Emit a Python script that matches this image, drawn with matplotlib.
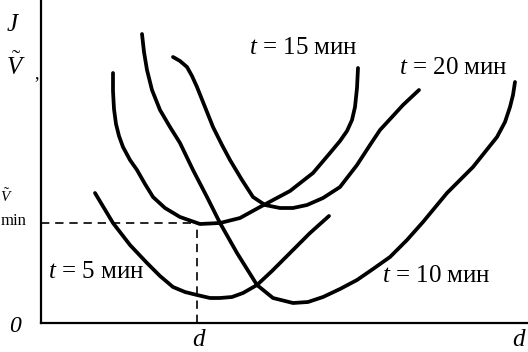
import matplotlib
matplotlib.use("Agg")
import matplotlib.pyplot as plt

plt.rcParams["font.family"] = ["Liberation Serif", "DejaVu Serif"]
plt.rcParams["mathtext.fontset"] = "custom"
plt.rcParams["mathtext.rm"] = "Liberation Serif"
plt.rcParams["mathtext.it"] = "Liberation Serif:italic"

W, H = 528, 352

# curves (chart units: origin at axis corner)
t5_x = [54, 63, 72, 89, 106, 119, 132, 144, 156, 169, 179, 191, 202, 216, 231, 249, 269, 288]
t5_y = [130, 115, 100, 78, 60, 47, 36, 31, 28, 25, 25, 26, 30, 38, 52, 70, 90, 107]

t10_x = [101, 103, 106, 111, 119, 129, 139, 152, 166, 179, 196, 216, 232, 252, 267, 282,
         299, 316, 332, 349, 366, 382, 406, 432, 456, 464, 469, 472, 474]
t10_y = [289, 271, 253, 233, 213, 196, 180, 153, 126, 100, 70, 38, 25, 20, 21, 26,
         34, 43, 54, 66, 83, 101, 130, 156, 186, 201, 216, 228, 241]

t15_x = [72, 72, 73, 75, 78, 82, 89, 96, 104, 112, 124, 139, 159, 179, 199, 219, 249,
         272, 289, 299, 306, 311, 314, 316, 317]
t15_y = [250, 232, 214, 199, 187, 176, 163, 153, 139, 126, 115, 106, 99, 100, 105, 116, 132,
         150, 170, 182, 192, 203, 216, 235, 255]

t20_x = [132, 139, 146, 151, 156, 164, 172, 181, 189, 201, 212, 224, 239, 252, 266,
         282, 299, 316, 329, 339, 351, 362, 378]
t20_y = [266, 262, 256, 247, 236, 216, 196, 178, 163, 143, 126, 118, 115, 115, 118,
         125, 136, 158, 178, 193, 206, 218, 233]

d_opt = 156
v_min = 100

fig = plt.figure(figsize=(W / 100, H / 100), dpi=100)
fig.patch.set_facecolor("white")
ax = fig.add_axes([41 / W, 29 / H, 487 / W, 323 / H])
ax.set_xlim(0, 487)
ax.set_ylim(0, 323)
ax.set_xticks([])
ax.set_yticks([])
for side in ("top", "right"):
    ax.spines[side].set_visible(False)
for side in ("left", "bottom"):
    ax.spines[side].set_linewidth(1.6)
    ax.spines[side].set_color("black")

for xs, ys in [(t5_x, t5_y), (t10_x, t10_y), (t15_x, t15_y), (t20_x, t20_y)]:
    ax.plot(xs, ys, color="black", lw=2.7, solid_capstyle="round", solid_joinstyle="round")

ax.plot([0, d_opt], [v_min, v_min], color="black", lw=1.2, ls=(0, (5, 3.5)))
ax.plot([d_opt, d_opt], [0, v_min], color="black", lw=1.2, ls=(0, (5, 3.5)))


def label(px, py, s, size=18, **kw):
    fig.text(px / W, 1 - py / H, s, fontsize=size, ha=kw.pop("ha", "center"),
             va=kw.pop("va", "center"), **kw)


label(12, 25, "J", size=18, style="italic")
label(16, 66, r"$\tilde{V}$", size=18)
label(37, 74, ",", size=13)
label(0, 196, r"$\tilde{V}$", size=11, ha="left")
label(14, 221, "min", size=12)
label(15, 327, "0", size=17, style="italic")
label(198, 340, "d", size=18, style="italic")
label(518, 340, "d", size=18, style="italic")

label(303, 48, "$t$ = 15 мин")
label(453, 68, "$t$ = 20 мин")
label(96, 272, "$t$ = 5 мин")
label(436, 276, "$t$ = 10 мин")

fig.savefig("out.png", dpi=100)
